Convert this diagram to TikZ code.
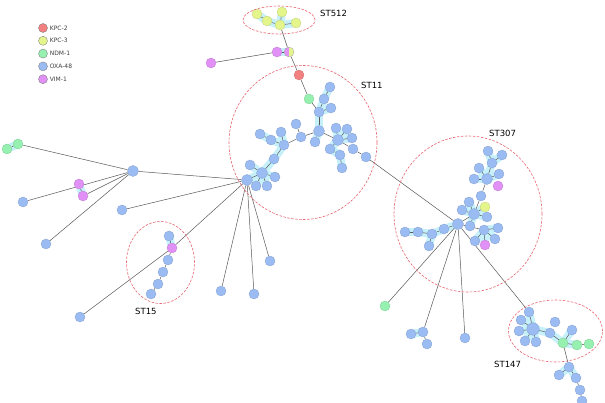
\documentclass[tikz,border=0pt]{standalone}
\usepackage{fontspec}
\setmainfont{DejaVu Sans}
\usetikzlibrary{backgrounds, positioning}
\definecolor{oxa}{RGB}{155,188,243}
\definecolor{kpctwo}{RGB}{243,128,128}
\definecolor{kpcthree}{RGB}{228,245,140}
\definecolor{ndm}{RGB}{150,240,175}
\definecolor{vim}{RGB}{225,145,245}
\definecolor{haloc}{RGB}{198,240,250}
\definecolor{clusterc}{RGB}{232,100,112}

\begin{document}
\begin{tikzpicture}[
    x=1pt, y=-1pt,
    nd/.style={circle, fill=#1, draw=#1!85!black, line width=0.3pt, minimum size=10pt, inner sep=0pt},
    hub/.style={minimum size=11pt},
    link/.style={draw=black!65, line width=0.5pt},
    halo/.style={draw=haloc, line width=8pt, line cap=round},
    cluster/.style={draw=clusterc, line width=0.6pt, dash pattern=on 2.5pt off 1.5pt},
    sttext/.style={font=\fontsize{8.5}{10}\selectfont, inner sep=0pt},
    legtext/.style={font=\fontsize{6}{7}\selectfont, text=black!75, inner sep=0pt}
]
\useasboundingbox (0,0) rectangle (605,403);

% legend
\foreach \i/\c/\t in {1/kpctwo/KPC-2, 2/kpcthree/KPC-3, 3/ndm/NDM-1, 4/oxa/OXA-48, 5/vim/VIM-1} {
  \node[nd=\c, draw=black!55, minimum size=9pt] (lg\i) at (43,{15.2+12.8*\i}) {};
  \node[legtext, right=2pt of lg\i] (lt\i) {\t};
}

% OXA-48 isolates
\foreach \n/\x/\y in {a1/330/87, a2/324/99, a3/331/108, a4/319/112, a6/315/142,
    b1/296/124, b2/301/137, b3/281/132, b4/284/145, b5/271/140, b6/260/134, b7/274/159,
    b9/250/165, b10/275/177, b11/256/186, b12/267/186,
    c1/336/128, c2/347/129, c4/352/138, c5/330/149, c6/340/155, c7/342/168, c8/353/149, c9/366/157,
    l1/23/202, l2/46/244, l3/122/210, d1/221/291, d2/254/294, d3/270/261, sx/80/317,
    s1/169/236, s3/168/260, s4/163/272, s5/158/284, s6/151/294,
    p1/444/229, p2/432/234, p3/418/232, p4/405/232, p5/429/246,
    q1/462/210, q2/469/202, q4/487/217, q5/470/226, q6/481/196,
    t1/474/179, t2/479/168, t3/499/174, t5/492/163, t6/488/151, t7/502/155,
    u0/484/230, u1/498/228, u2/495/239, u3/475/241,
    w1/411/334, w2/423/332, w3/427/344, w4/465/338,
    k1/529/312, k2/521/320, k3/519/331, k4/525/341, k5/536/342, k6/555/322, k7/550/333, k8/572/330,
    m1/569/367, m2/559/375, m3/576/378, m4/580/390, m5/582/401}
  \node[nd=oxa] (\n) at (\x,\y) {};
\foreach \n/\x/\y in {a5/319/131, b8/262/173, c3/338/140, h1/247/180, l0/133/171,
    p0/458/224, q0/474/214, t0/487/179}
  \node[nd=oxa, hub] (\n) at (\x,\y) {};
\node[nd=oxa, minimum size=12.5pt] (k0) at (533,329) {};

% other carbapenemases
\foreach \n/\x/\y in {v0/211/63, v1/277/52, lv1/79/184, lv2/83/196, s2/172/248, t4/498/186, u4/485/245}
  \node[nd=vim] (\n) at (\x,\y) {};
\foreach \n/\x/\y in {y1/257/14, y2/267/21, y3/282/12, y4/280/25, y5/296/23, q3/485/207}
  \node[nd=kpcthree] (\n) at (\x,\y) {};
\foreach \n/\x/\y in {g1/309/99, ng1/18/144, ng2/7/149, n1/385/306, kg1/563/343, kg2/577/345, kg3/589/344}
  \node[nd=ndm] (\n) at (\x,\y) {};
\node[nd=kpctwo] (r1) at (299,75) {};
\node[circle, minimum size=10pt, inner sep=0pt, draw=black!35, line width=0.3pt,
  path picture={
    \fill[vim] (path picture bounding box.south west) rectangle (path picture bounding box.north);
    \fill[kpcthree] (path picture bounding box.south) rectangle (path picture bounding box.north east);
  }] (vy) at (289,52) {};

% clusters
\draw[cluster] (279,20) ellipse [x radius=36pt, y radius=14pt];
\draw[cluster] (303,142.5) ellipse [x radius=74pt, y radius=77pt];
\draw[cluster] (160.5,262.5) ellipse [x radius=34pt, y radius=41pt];
\draw[cluster] (468,214) ellipse [x radius=74pt, y radius=78pt];
\draw[cluster] (555.5,331) ellipse [x radius=47pt, y radius=31pt];
\node[sttext, anchor=west] (st512) at (320,13) {ST512};
\node[sttext, anchor=west] (st11) at (361,85) {ST11};
\node[sttext, anchor=west] (st307) at (489,133) {ST307};
\node[sttext, anchor=west] (st15) at (135,311) {ST15};
\node[sttext, anchor=west] (st147) at (494,364) {ST147};

% tree
\begin{scope}[on background layer]
\fill[white] (0,0) rectangle (605,403);
\foreach \a/\b in {y1/y2, y2/y4, y3/y4, y4/y5, v1/vy, a1/a2, a2/a4, a3/a4, a4/a5, a5/a6,
    b3/b4, b4/b5, b5/b6, b4/b7, b7/b8, b8/b9, b8/b10, b8/b11, b8/b12, b8/h1,
    c3/c1, c3/c2, c3/c5, c5/c6, c6/c7, c3/c4, ng1/ng2, lv1/lv2, s1/s2,
    p0/p1, p1/p2, p2/p3, p3/p4, p2/p5, q0/q1, q0/q2, q0/q3, q0/q4, q0/q5,
    t0/t1, t0/t2, t0/t3, t0/t5, t5/t6, t5/t7, u0/u1, u0/u2, u0/u3, u0/u4,
    k0/k1, k0/k2, k0/k3, k0/k4, k0/k5, k0/k7, k7/kg1, kg1/k8, kg1/kg2, m1/m2, m1/m3, w1/w2}
  \draw[halo] (\a.center) -- (\b.center);
\foreach \a/\b in {y1/y2, y2/y4, y3/y4, y4/y5, v1/vy, a1/a2, a2/a4, a3/a4, a4/a5, a5/a6,
    b3/b4, b4/b5, b5/b6, b4/b7, b7/b8, b8/b9, b8/b10, b8/b11, b8/b12, b8/h1,
    c3/c1, c3/c2, c3/c5, c5/c6, c6/c7, c3/c4, ng1/ng2, lv1/lv2, s1/s2,
    p0/p1, p1/p2, p2/p3, p3/p4, p2/p5, q0/q1, q0/q2, q0/q3, q0/q4, q0/q5,
    t0/t1, t0/t2, t0/t3, t0/t5, t5/t6, t5/t7, u0/u1, u0/u2, u0/u3, u0/u4,
    k0/k1, k0/k2, k0/k3, k0/k4, k0/k5, k0/k7, k7/kg1, kg1/k8, kg1/kg2, m1/m2, m1/m3, w1/w2,
    vy/y4, v0/v1, vy/r1, r1/g1, g1/a4, a5/b2, b2/b1, b2/b4, a5/c3, c3/c8, c8/c9, c9/p0,
    h1/l0, l0/ng1, l0/l1, l0/lv2, l0/l2, h1/l3, h1/s2, s2/sx, h1/d1, h1/d2, h1/d3,
    s2/s3, s3/s4, s4/s5, s5/s6, p0/q0, q0/q6, q6/t0, p0/u0, p0/n1, p0/w2, w2/w3, p0/w4,
    p0/k1, kg1/m1, m3/m4, m4/m5, kg2/kg3}
  \draw[link] (\a) -- (\b);
\end{scope}
\end{tikzpicture}
\end{document}
